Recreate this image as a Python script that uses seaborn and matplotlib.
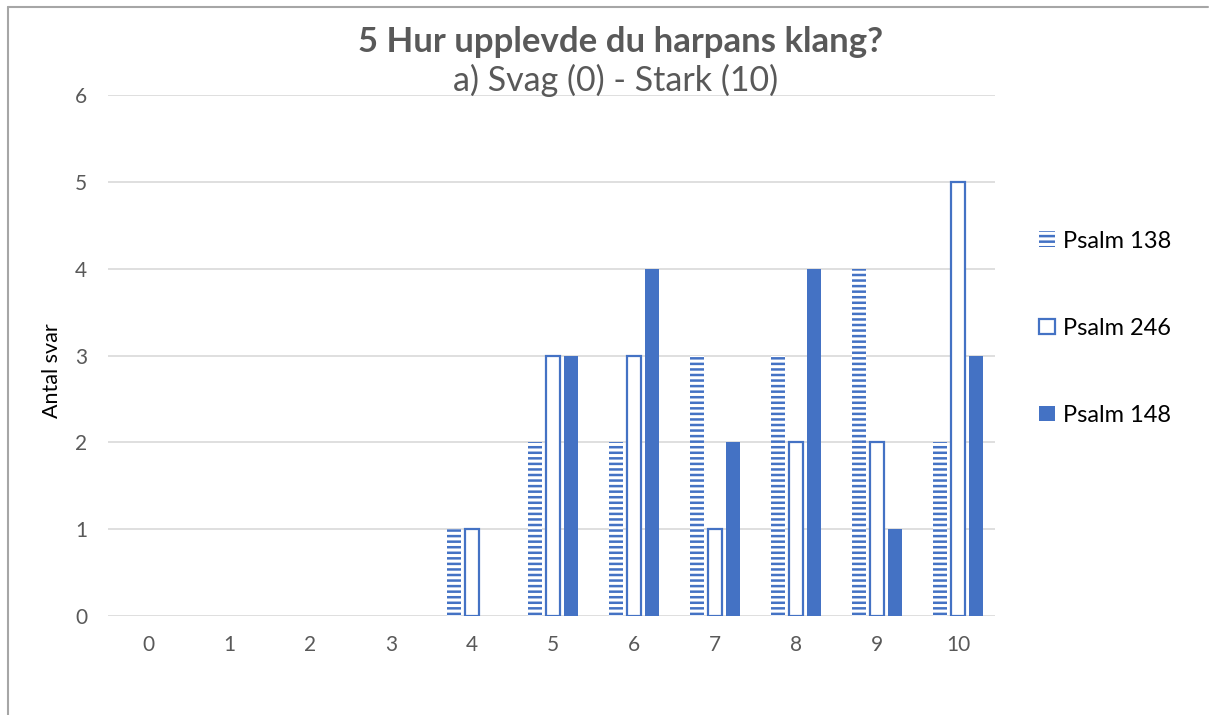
import matplotlib
matplotlib.use("Agg")
import matplotlib.pyplot as plt
from matplotlib.patches import Patch
from matplotlib.lines import Line2D
import seaborn as sns
import pandas as pd

sns.set_theme(style="white")
plt.rcParams['font.family'] = ['Lato', 'DejaVu Sans']
plt.rcParams['hatch.linewidth'] = 1.8

# data
scores = [0, 1, 2, 3, 4, 5, 6, 7, 8, 9, 10]
psalm_138 = [0, 0, 0, 0, 1, 2, 2, 3, 3, 4, 2]
psalm_246 = [0, 0, 0, 0, 1, 3, 3, 1, 2, 2, 5]
psalm_148 = [0, 0, 0, 0, 0, 3, 4, 2, 4, 1, 3]
series = ["Psalm 138", "Psalm 246", "Psalm 148"]

df = pd.DataFrame({"score": scores * 3,
                   "count": psalm_138 + psalm_246 + psalm_148,
                   "serie": [s for s in series for _ in scores]})

blue = "#4472C4"
grey = "#595959"

fig = plt.figure(figsize=(12.09, 7.15), dpi=100)
ax = fig.add_axes([0.0893, 0.1385, 0.7337, 0.7285])

sns.barplot(data=df, x="score", y="count", hue="serie", hue_order=series,
            order=scores, width=0.667, gap=0.22, ax=ax, legend=False)

# style each series like the original
for cont, name in zip(ax.containers, series):
    for bar in cont:
        if name == "Psalm 138":
            bar.set_facecolor("white")
            bar.set_edgecolor(blue)
            bar.set_hatch("---")
            bar.set_linewidth(0)
        elif name == "Psalm 246":
            bar.set_facecolor("white")
            bar.set_edgecolor(blue)
            bar.set_linewidth(1.6)
        else:
            bar.set_facecolor(blue)
            bar.set_edgecolor(blue)
            bar.set_linewidth(0)
        if bar.get_height() == 0:
            bar.set_visible(False)

ax.set_ylim(0, 6)
ax.set_xlim(-0.494, 10.457)
ax.set_yticks(range(0, 7))
ax.yaxis.grid(True, color="#d9d9d9", linewidth=1.2)
ax.set_axisbelow(True)
sns.despine(ax=ax, left=True, bottom=True)
ax.tick_params(axis="both", length=0, labelsize=15, labelcolor=grey)
ax.tick_params(axis="y", pad=15)
ax.tick_params(axis="x", pad=14)
ax.set_xlabel("")
ax.set_ylabel("")

fig.text(0.043, 0.482, "Antal svar", rotation=90, ha="center", va="center",
         fontsize=15.5, color="black")
fig.text(0.513, 0.941, "5 Hur upplevde du harpans klang?", ha="center",
         va="center", fontsize=25, fontweight="bold", color=grey)
fig.text(0.509, 0.888, "a) Svag (0) - Stark (10)", ha="center",
         va="center", fontsize=24.5, color=grey)

handles = [Patch(facecolor="white", edgecolor=blue, hatch="---", linewidth=0),
           Patch(facecolor="white", edgecolor=blue, linewidth=1.6),
           Patch(facecolor=blue, edgecolor=blue, linewidth=0)]
fig.legend(handles, series, loc="center left", bbox_to_anchor=(0.842, 0.541),
           frameon=False, fontsize=17, handlelength=0.65, handleheight=0.65,
           handletextpad=0.35, labelspacing=2.8, labelcolor="black")

# chart border (left and top)
fig.add_artist(Line2D([0.0066, 0.0066], [0, 0.99], color="#a6a6a6", linewidth=1.5))
fig.add_artist(Line2D([0.0066, 0.999], [0.99, 0.99], color="#a6a6a6", linewidth=1.5))

fig.savefig("out.png", dpi=100)
